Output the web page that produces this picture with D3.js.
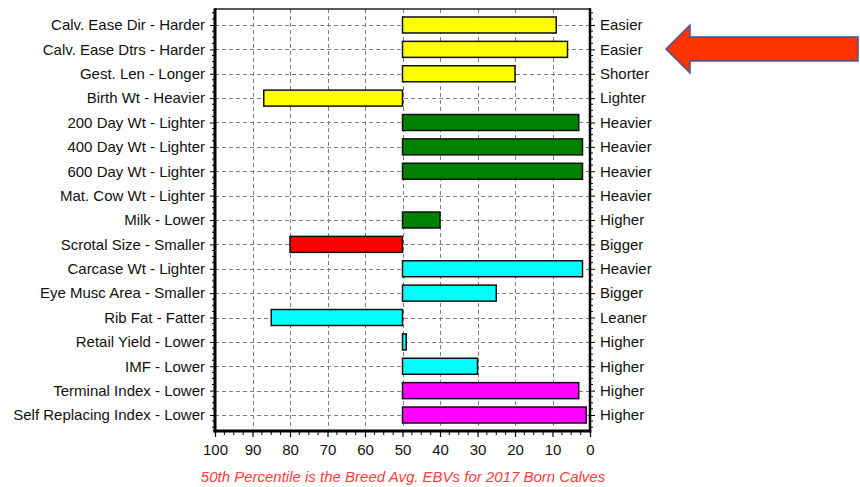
<!DOCTYPE html>
<html>
<head>
<meta charset="utf-8">
<script src="https://cdn.jsdelivr.net/npm/d3@7/dist/d3.min.js"></script>
<style>
  html, body { margin: 0; padding: 0; background: #fff; }
  svg { display: block; }
  text { font-family: "Liberation Sans", Arial, sans-serif; }
</style>
</head>
<body>
<svg id="chart" width="860" height="487"></svg>
<script>
// ---- data ----
const traits = [
  "Calv. Ease Dir - Harder", "Calv. Ease Dtrs - Harder", "Gest. Len - Longer",
  "Birth Wt - Heavier", "200 Day Wt - Lighter", "400 Day Wt - Lighter",
  "600 Day Wt - Lighter", "Mat. Cow Wt - Lighter", "Milk - Lower",
  "Scrotal Size - Smaller", "Carcase Wt - Lighter", "Eye Musc Area - Smaller",
  "Rib Fat - Fatter", "Retail Yield - Lower", "IMF - Lower",
  "Terminal Index - Lower", "Self Replacing Index - Lower"
];
const rightLabels = [
  "Easier", "Easier", "Shorter", "Lighter", "Heavier", "Heavier", "Heavier",
  "Heavier", "Higher", "Bigger", "Heavier", "Bigger", "Leaner", "Higher",
  "Higher", "Higher", "Higher"
];
const groups = [
  "calving", "calving", "calving", "calving", "growth", "growth", "growth",
  "growth", "growth", "fertility", "carcase", "carcase", "carcase", "carcase",
  "carcase", "index", "index"
];
const percentiles = [9, 6, 20, 87, 3, 2, 2, null, 40, 80, 2, 25, 85, 49, 30, 3, 1];
const xTicks = [100, 90, 80, 70, 60, 50, 40, 30, 20, 10, 0];
const breedAvg = 50;
const caption = "50th Percentile is the Breed Avg. EBVs for 2017 Born Calves";

// ---- layout ----
const svg = d3.select("#chart");
const L = 215, R = 590, T = 9, B = 431;

const x = d3.scaleLinear().domain([100, 0]).range([L, R]);
const y = d3.scalePoint().domain(d3.range(traits.length)).range([T, B]).padding(0.656);
const step = y.step();
const color = d3.scaleOrdinal()
  .domain(["calving", "growth", "fertility", "carcase", "index"])
  .range(["#ffff00", "#008000", "#ff0000", "#00ffff", "#ff00ff"]);

// background
svg.append("rect").attr("x", L).attr("y", T).attr("width", R - L).attr("height", B - T).attr("fill", "#fff");

// grid
const grid = svg.append("g").attr("stroke", "#7f7f7f").attr("stroke-width", 1).attr("stroke-dasharray", "4,3");
grid.selectAll("line.v").data(xTicks.filter(d => d !== 100 && d !== 0)).join("line")
  .attr("x1", d => Math.round(x(d)) + 0.5).attr("x2", d => Math.round(x(d)) + 0.5)
  .attr("y1", T).attr("y2", B);
grid.selectAll("line.h").data(d3.range(traits.length)).join("line")
  .attr("x1", L).attr("x2", R)
  .attr("y1", d => Math.round(y(d)) + 0.5).attr("y2", d => Math.round(y(d)) + 0.5);

// bars
const barH = 16;
svg.append("g").selectAll("rect")
  .data(percentiles.map((v, i) => ({ v, i })).filter(d => d.v !== null))
  .join("rect")
  .attr("x", d => Math.min(x(d.v), x(breedAvg)))
  .attr("width", d => Math.abs(x(d.v) - x(breedAvg)))
  .attr("y", d => y(d.i) - barH / 2)
  .attr("height", barH)
  .attr("fill", d => color(groups[d.i]))
  .attr("stroke", "#111")
  .attr("stroke-width", 1.5);

// bottom axis
const xAxis = svg.append("g").attr("transform", `translate(0,${B})`)
  .call(d3.axisBottom(x).tickValues(xTicks).tickSize(6).tickPadding(7).tickFormat(d3.format("d")));
xAxis.select(".domain").remove();
xAxis.selectAll("line").attr("stroke", "#000").attr("stroke-width", 1.2);
xAxis.selectAll("text").attr("font-size", 15).attr("fill", "#111");
// minor bottom ticks
svg.append("g").attr("stroke", "#000").attr("stroke-width", 1)
  .selectAll("line").data(d3.range(0, 100, 2.5).filter(d => d % 10 !== 0)).join("line")
  .attr("x1", d => x(d)).attr("x2", d => x(d)).attr("y1", B).attr("y2", B + 4);

// left axis
const yl = svg.append("g").attr("transform", `translate(${L},0)`)
  .call(d3.axisLeft(y).tickSize(5).tickPadding(5).tickFormat(i => traits[i]));
yl.select(".domain").remove();
yl.selectAll("line").attr("stroke", "#000");
yl.selectAll("text").attr("font-size", 15).attr("fill", "#111");

// right axis
const yr = svg.append("g").attr("transform", `translate(${R},0)`)
  .call(d3.axisRight(y).tickSize(5).tickPadding(5).tickFormat(i => rightLabels[i]));
yr.select(".domain").remove();
yr.selectAll("line").attr("stroke", "#000");
yr.selectAll("text").attr("font-size", 15).attr("fill", "#111");

// minor ticks left/right
const minorY = [];
d3.range(traits.length).forEach(i => {
  [-0.5, -0.25, 0.25, 0.5].forEach(f => minorY.push(y(i) + f * step));
});
const minorYU = Array.from(new Set(minorY.map(v => Math.round(v * 10) / 10)));
svg.append("g").attr("stroke", "#000").attr("stroke-width", 1)
  .selectAll("line").data(minorYU).join("line")
  .attr("x1", R).attr("x2", R + 3).attr("y1", d => d).attr("y2", d => d);
svg.append("g").attr("stroke", "#000").attr("stroke-width", 1)
  .selectAll("line").data(minorYU).join("line")
  .attr("x1", L - 3).attr("x2", L).attr("y1", d => d).attr("y2", d => d);

// frame
svg.append("line").attr("x1", L).attr("x2", R).attr("y1", T).attr("y2", T).attr("stroke", "#222").attr("stroke-width", 1.5);
svg.append("line").attr("x1", L).attr("x2", L).attr("y1", T - 0.75).attr("y2", B + 1.5).attr("stroke", "#000").attr("stroke-width", 3);
svg.append("line").attr("x1", R).attr("x2", R).attr("y1", T - 0.75).attr("y2", B + 1.5).attr("stroke", "#000").attr("stroke-width", 2.5);
svg.append("line").attr("x1", L - 1.5).attr("x2", R + 1.25).attr("y1", B).attr("y2", B).attr("stroke", "#000").attr("stroke-width", 3);

// caption
svg.append("text").attr("x", (L + R) / 2 + 0.5).attr("y", 482)
  .attr("text-anchor", "middle").attr("font-size", 15).attr("font-style", "italic")
  .attr("fill", "#ff3b3b").text(caption);

// arrow
const arrow = d3.path();
arrow.moveTo(666, 49);
arrow.lineTo(690, 25);
arrow.lineTo(690, 37);
arrow.lineTo(858, 37);
arrow.lineTo(858, 61);
arrow.lineTo(690, 61);
arrow.lineTo(690, 73);
arrow.closePath();
svg.append("path").attr("d", arrow.toString())
  .attr("fill", "#ff3300").attr("stroke", "#3a5a99").attr("stroke-width", 1.5);
</script>
</body>
</html>
